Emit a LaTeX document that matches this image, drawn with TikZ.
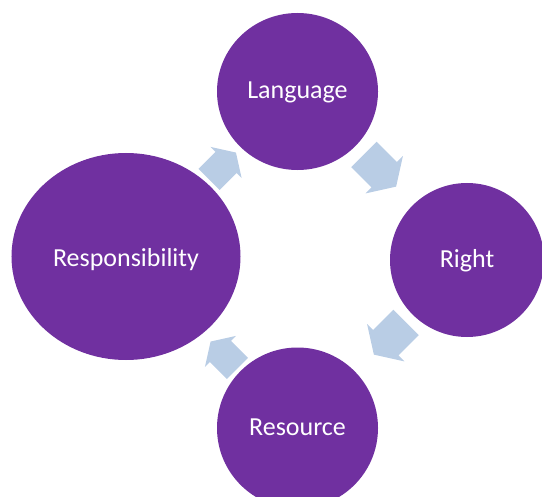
\documentclass[tikz,border=0pt]{standalone}
\usepackage{fontspec}
\setmainfont{Carlito}
\usetikzlibrary{shapes.geometric}
\definecolor{bubble}{RGB}{112,48,160}
\definecolor{flow}{RGB}{185,205,229}
\tikzset{
  bubble/.style={fill=bubble, draw=none, inner sep=0pt, text=white,
    font=\fontsize{26bp}{30bp}\selectfont, text height=18bp, text depth=3bp},
  flowarrow/.style={fill=flow, draw=none}
}
% block arrow pointing along the local x axis, centred on the origin
\newcommand{\cyclearrow}[3]{%
  \begin{scope}[shift={#1}, rotate=#2, scale=#3]
    \fill[flowarrow] (-19,-15) -- (5,-15) -- (5,-22) -- (19,0) -- (5,22)
      -- (5,15) -- (-19,15) -- cycle;
  \end{scope}}
\begin{document}
\begin{tikzpicture}[x=1bp, y=-1bp]
  \useasboundingbox (0,0) rectangle (542,497);
  \clip (0,0) rectangle (542,497);

  \node[bubble, ellipse, minimum width=161bp, minimum height=157bp]
    (language) at (297.5,91.5) {Language};
  \node[bubble, circle, minimum size=154bp]
    (right) at (467,260) {Right};
  \node[bubble, circle, minimum size=161bp]
    (resource) at (297.5,428) {Resource};
  \node[bubble, ellipse, minimum width=229bp, minimum height=207bp,
    text height=22bp]
    (responsibility) at (126,256.5) {Responsibility};

  % arrows running clockwise round the cycle
  \coordinate (a1) at (222.5,166);
  \coordinate (a2) at (380,170.5);
  \coordinate (a3) at (390,338.5);
  \coordinate (a4) at (224,355);
  \cyclearrow{(a1)}{45}{1}
  \cyclearrow{(a2)}{-45}{1.2}
  \cyclearrow{(a3)}{-135}{1.2}
  \cyclearrow{(a4)}{135}{1}
\end{tikzpicture}
\end{document}
